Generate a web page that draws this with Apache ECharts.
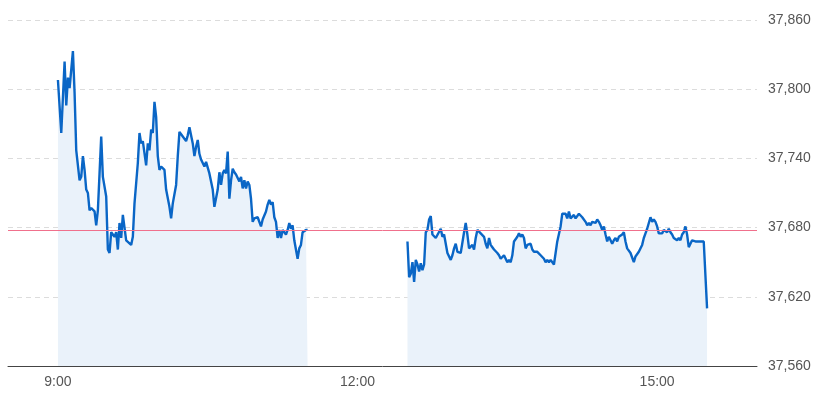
<!DOCTYPE html>
<html>
<head>
<meta charset="utf-8">
<script src="https://cdn.jsdelivr.net/npm/echarts@6/dist/echarts.min.js"></script>
<style>html,body{margin:0;padding:0;background:#fff}#c{width:822px;height:394px}</style>
</head>
<body>
<div id="c"></div>
<script>
// minutes after 9:00
var amMinutes = [0,2,4,5,6,7,9,10,11,13,14,15,16,17,18,19,20,22,23,24,25,26,27,28,29,30,31,32,33,34,35,36,37,38,39,40,41,42,44,45,46,47,48,49,50,51,53,54,55,56,57,58,59,60,61,62,64,65,67,68,69,71,72,73,75,76,77,78,79,80,81,82,83,84,85,86,87,88,89,90,91,93,94,96,97,98,99,100,101,102,103,104,105,106,107,109,110,111,112,113,114,115,116,117,118,119,120,122,123,124,125,126,127,128,129,130,131,132,133,134,135,136,137,138,139,140,141,142,143,144,145,146,147,148,149,150];
var amValues = [37808,37762,37824,37786,37810,37801,37833,37797,37747,37721,37724,37742,37730,37713,37710,37695,37697,37694,37682,37695,37727,37759,37724,37723,37707,37661,37658,37676,37675,37672,37676,37661,37684,37671,37691,37680,37669,37670,37665,37672,37701,37701,37736,37762,37753,37755,37734,37753,37747,37765,37762,37789,37776,37742,37730,37733,37730,37713,37698,37688,37701,37717,37742,37763,37759,37760,37755,37760,37767,37766,37753,37742,37750,37756,37744,37739,37740,37733,37737,37736,37727,37713,37698,37713,37728,37717,37727,37730,37727,37746,37705,37721,37731,37728,37726,37720,37724,37714,37721,37714,37720,37717,37705,37685,37688,37687,37689,37681,37687,37687,37694,37700,37704,37700,37702,37689,37685,37671,37678,37671,37678,37676,37674,37678,37684,37679,37682,37669,37661,37653,37662,37665,37676,37676,37678,37678];
var pmMinutes = [210,211,212,213,214,215,216,217,218,219,220,221,222,223,224,225,226,227,228,230,231,232,233,234,235,236,237,238,239,240,241,242,243,244,245,246,247,248,249,250,251,252,253,254,255,256,257,258,259,260,261,262,263,264,265,266,267,268,270,271,272,273,274,276,277,278,279,280,281,282,283,284,285,286,288,289,290,292,293,294,295,296,298,299,300,301,302,303,304,305,306,307,308,309,310,311,312,313,315,316,317,318,319,320,321,323,324,325,326,327,328,329,330,331,332,333,334,335,336,337,338,339,340,341,342,343,344,346,347,348,349,351,352,353,354,355,356,357,358,359,360,361,362,363,364,366,367,368,369,370,372,373,374,375,376,377,378,379,380,381,383,384,386,388,389,390];
var pmValues = [37668,37637,37640,37650,37633,37652,37648,37642,37649,37643,37648,37676,37678,37687,37690,37674,37675,37671,37672,37679,37672,37674,37673,37658,37659,37652,37656,37662,37666,37659,37658,37658,37659,37676,37684,37674,37662,37661,37665,37661,37671,37678,37679,37675,37674,37672,37666,37662,37671,37665,37663,37661,37662,37658,37656,37653,37652,37656,37650,37652,37650,37656,37668,37672,37675,37672,37674,37671,37662,37665,37666,37666,37661,37659,37659,37658,37656,37653,37650,37652,37650,37652,37648,37658,37668,37669,37681,37692,37691,37692,37688,37694,37688,37687,37691,37688,37689,37692,37689,37688,37685,37682,37684,37682,37685,37684,37687,37685,37682,37678,37681,37674,37668,37672,37671,37666,37669,37671,37668,37672,37671,37674,37676,37668,37662,37662,37658,37650,37655,37656,37659,37665,37671,37675,37679,37684,37689,37685,37687,37685,37681,37675,37676,37675,37678,37676,37679,37676,37674,37671,37669,37671,37669,37674,37676,37681,37674,37663,37666,37669,37668,37668,37668,37668,37668,37610];
var prevClose = 37678;
var xTickValues = [540, 720, 900];
var xTickLabels = ['9:00', '12:00', '15:00'];

function pairs(mins, vals) {
  return mins.map(function (m, i) { return [540 + m, vals[i]]; });
}
var lineColor = '#0a66c6';
var areaColor = '#eaf2fa';
function seriesOf(data, withMark) {
  var s = {
    type: 'line', data: data, symbol: 'none', smooth: false,
    lineStyle: { color: lineColor, width: 2.4 },
    areaStyle: { color: areaColor, opacity: 1, origin: 'start' },
    z: 3
  };
  if (withMark) {
    s.markLine = {
      silent: true, symbol: 'none', animation: false,
      label: { show: false },
      lineStyle: { color: '#f0708c', width: 1, type: 'solid' },
      data: [{ yAxis: prevClose }]
    };
  }
  return s;
}
var chart = echarts.init(document.getElementById('c'), null, { renderer: 'canvas' });
chart.setOption({
  animation: false,
  grid: { left: 8, right: 65, top: 20, bottom: 28, containLabel: false },
  xAxis: {
    type: 'value', min: 510, max: 960,
    axisLine: { show: true, lineStyle: { color: '#444', width: 1 } },
    axisTick: { show: false },
    splitLine: { show: false },
    axisLabel: {
      customValues: xTickValues,
      color: '#555', fontSize: 14, fontFamily: 'Liberation Sans, Arial, sans-serif', margin: 9,
      formatter: function (v) { var i = xTickValues.indexOf(v); return i >= 0 ? xTickLabels[i] : ''; }
    }
  },
  yAxis: {
    type: 'value', position: 'right', min: 37560, max: 37860, interval: 60,
    axisLine: { show: false }, axisTick: { show: false },
    splitLine: { show: true, lineStyle: { color: '#dcdcdc', type: [5, 4], width: 1 } },
    axisLabel: {
      color: '#555', fontSize: 14, fontFamily: 'Liberation Sans, Arial, sans-serif', margin: 11,
      formatter: function (v) { return v.toLocaleString('en-US'); }
    }
  },
  series: [seriesOf(pairs(amMinutes, amValues), true), seriesOf(pairs(pmMinutes, pmValues), false)]
});
</script>
</body>
</html>
